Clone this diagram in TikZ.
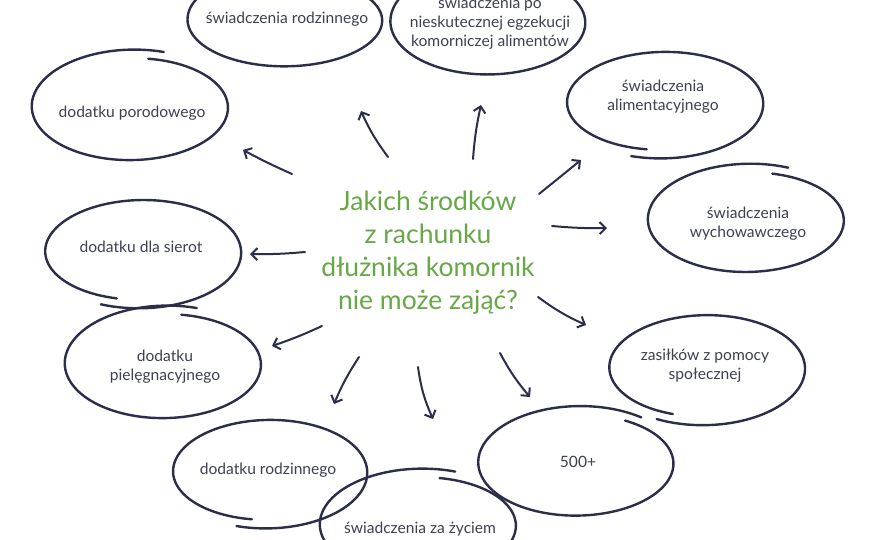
\documentclass[tikz,border=0pt]{standalone}
\usepackage{fontspec}
\setmainfont{Lato}
\usetikzlibrary{arrows.meta}
\definecolor{ink}{HTML}{2B2E48}
\definecolor{lbl}{HTML}{3D4052}
\definecolor{grn}{HTML}{66A845}
\tikzset{
  ell/.style={ink, line width=2.4pt, line cap=round},
  lab/.style={text=lbl, font=\fontsize{15.6}{19}\selectfont, align=center, inner sep=0pt},
  ttl/.style={text=grn, font=\fontsize{26.5}{33}\selectfont, align=center, inner sep=0pt},
  arr/.style={ink, line width=2pt, line cap=round, -{Straight Barb[length=6pt,width=12pt,line width=2pt]}},
}
\newcommand\sketchellipse[5]{% cx cy rx ry start-angle
  \draw[ell] plot[domain=#5:#5+368, samples=140, smooth]
    ({#1+(#3-4+0.024*(\x-(#5)))*cos(\x)},{#2+(#4-4+0.024*(\x-(#5)))*sin(\x)});
}
\begin{document}
\begin{tikzpicture}[x=1pt,y=-1pt]
\useasboundingbox (0,0) rectangle (880,540);
\fill[white] (0,0) rectangle (880,540);

% outlines
\sketchellipse{287}{20}{97}{46}{-90}
\sketchellipse{490}{22}{97}{52}{-95}
\sketchellipse{663}{103}{98}{51}{100}
\sketchellipse{748}{220}{98}{52}{-75}
\sketchellipse{705}{368}{98}{53}{110}
\sketchellipse{578}{463}{98}{53}{-60}
\sketchellipse{420}{525}{98}{52}{-78}
\sketchellipse{268}{472}{97}{52}{100}
\sketchellipse{165}{364}{98}{54}{-80}
\sketchellipse{141}{252}{98}{52}{105}
\sketchellipse{132}{107}{98}{53}{-80}

% labels
\node[ttl] (c) at (428,253) {Jakich środków\\z rachunku\\dłużnika komornik\\nie może zająć?};
\node[lab] (n1) at (287,19) {świadczenia rodzinnego};
\node[lab] (n2) at (490,23) {świadczenia po\\nieskutecznej egzekucji\\komorniczej alimentów};
\node[lab] (n3) at (663,97) {świadczenia\\alimentacyjnego};
\node[lab] (n4) at (748,224) {świadczenia\\wychowawczego};
\node[lab] (n5) at (705,366) {zasiłków z pomocy\\społecznej};
\node[lab] (n6) at (578,462) {500+};
\node[lab] (n7) at (420,529) {świadczenia za życiem};
\node[lab] (n8) at (268,470) {dodatku rodzinnego};
\node[lab] (n9) at (165,367) {dodatku\\pielęgnacyjnego};
\node[lab] (n10) at (141,247) {dodatku dla sierot};
\node[lab] (n11) at (132,113) {dodatku porodowego};

% arrow ends
\coordinate (t1) at (388,157); \coordinate (h1) at (361,111);
\coordinate (t2) at (473,159); \coordinate (h2) at (481,105);
\coordinate (t3) at (539,194); \coordinate (h3) at (581,160);
\coordinate (t4) at (552,226); \coordinate (h4) at (607,228);
\coordinate (t5) at (538,297); \coordinate (h5) at (586,325);
\coordinate (t6) at (500,353); \coordinate (h6) at (530,397);
\coordinate (t7) at (418,367); \coordinate (h7) at (433,419);
\coordinate (t8) at (359,357); \coordinate (h8) at (334,404);
\coordinate (t9) at (322,326); \coordinate (h9) at (272,346);
\coordinate (t10) at (305,252); \coordinate (h10) at (250,254);
\coordinate (t11) at (292,174); \coordinate (h11) at (243,150);

\draw[arr] (t1) to[bend left=6] (h1);
\draw[arr] (t2) to[bend left=4] (h2);
\draw[arr] (t3) to (h3);
\draw[arr] (t4) to[bend right=3] (h4);
\draw[arr] (t5) to[bend right=6] (h5);
\draw[arr] (t6) to[bend right=6] (h6);
\draw[arr] (t7) to[bend right=8] (h7);
\draw[arr] (t8) to[bend right=5] (h8);
\draw[arr] (t9) to[bend left=3] (h9);
\draw[arr] (t10) to[bend left=3] (h10);
\draw[arr] (t11) to[bend left=2] (h11);
\end{tikzpicture}
\end{document}
